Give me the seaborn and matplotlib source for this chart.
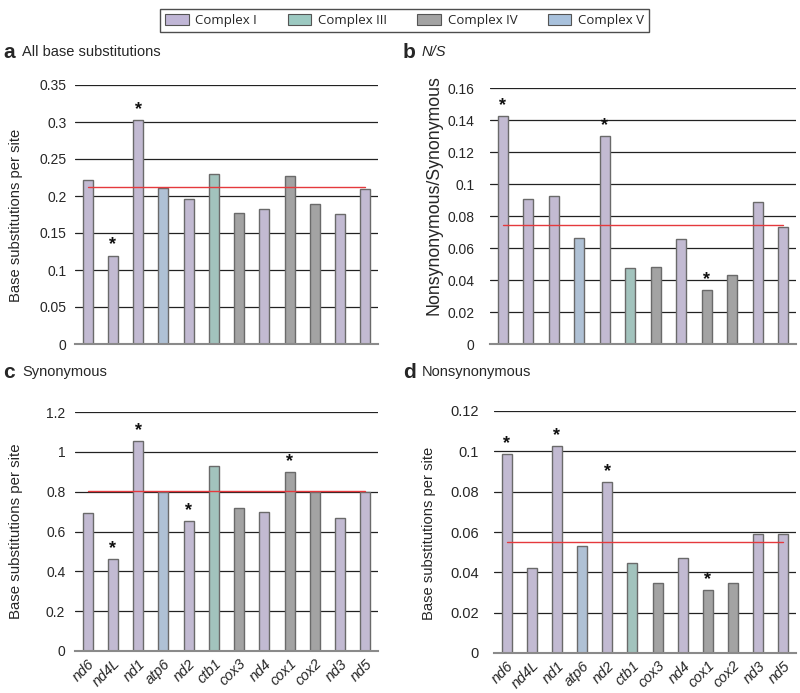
import matplotlib
matplotlib.use("Agg")
import matplotlib.pyplot as plt
import seaborn as sns
import pandas as pd
from matplotlib.patches import Patch

genes = ["nd6", "nd4L", "nd1", "atp6", "nd2", "ctb1", "cox3", "nd4", "cox1", "cox2", "nd3", "nd5"]
complexes = ["Complex I", "Complex I", "Complex I", "Complex V", "Complex I", "Complex III",
             "Complex IV", "Complex I", "Complex IV", "Complex IV", "Complex I", "Complex I"]

all_subs = [0.222, 0.1195, 0.303, 0.211, 0.196, 0.230, 0.177, 0.183, 0.227, 0.189, 0.1755, 0.209]
ns_ratio = [0.1427, 0.0905, 0.0922, 0.0663, 0.1297, 0.0476, 0.0484, 0.0659, 0.0338, 0.043, 0.0887, 0.073]
synonymous = [0.694, 0.463, 1.056, 0.796, 0.652, 0.931, 0.720, 0.700, 0.899, 0.796, 0.669, 0.796]
nonsynonymous = [0.0988, 0.042, 0.1028, 0.0529, 0.085, 0.0445, 0.0349, 0.0473, 0.0314, 0.0345, 0.0592, 0.059]

means = [0.2115, 0.0745, 0.804, 0.055]
stars = [["nd4L", "nd1"], ["nd6", "nd2", "cox1"], ["nd4L", "nd1", "nd2", "cox1"], ["nd6", "nd1", "nd2", "cox1"]]
yticks = [[0, 0.05, 0.1, 0.15, 0.2, 0.25, 0.3, 0.35],
          [0, 0.02, 0.04, 0.06, 0.08, 0.1, 0.12, 0.14, 0.16],
          [0, 0.2, 0.4, 0.6, 0.8, 1, 1.2],
          [0, 0.02, 0.04, 0.06, 0.08, 0.1, 0.12]]
ytick_labels = [["0", "0.05", "0.1", "0.15", "0.2", "0.25", "0.3", "0.35"],
                ["0", "0.02", "0.04", "0.06", "0.08", "0.1", "0.12", "0.14", "0.16"],
                ["0", "0.2", "0.4", "0.6", "0.8", "1", "1.2"],
                ["0", "0.02", "0.04", "0.06", "0.08", "0.1", "0.12"]]
ylabels = ["Base substitutions per site", "Nonsynonymous/Synonymous",
           "Base substitutions per site", "Base substitutions per site"]
letters = ["a", "b", "c", "d"]
titles = ["All base substitutions", "N/S", "Synonymous", "Nonsynonymous"]
legend_order = ["Complex I", "Complex III", "Complex IV", "Complex V"]

palette = {"Complex I": "#C0B6D6", "Complex III": "#9CC9C1",
           "Complex IV": "#A3A3A3", "Complex V": "#A8C1DC"}

sns.set_theme(style="white")
plt.rcParams["font.family"] = ["Liberation Sans", "DejaVu Sans"]

fig = plt.figure(figsize=(8, 6.93), dpi=100)
W, H = 800, 693
boxes = [(75, 378, 85, 344), (490, 796, 88, 344), (75, 378, 412, 651), (494, 796, 411, 653)]
series = [all_subs, ns_ratio, synonymous, nonsynonymous]
ypads = [6, 11, 7, 11]
ylabel_sizes = [10.6, 12.8, 10.8, 10.6]
ytick_sizes = [10, 10, 10, 10.5]
# right edge (px) and vertical centre (px) of each y-axis label in the figure
ylabel_px = [(23, 215), (442, 195), (23, 531), (436, 533)]

for i in range(4):
    x0, x1, yt, yb = boxes[i]
    ax = fig.add_axes([x0 / W, 1 - yb / H, (x1 - x0) / W, (yb - yt) / H])
    df = pd.DataFrame({"gene": genes, "value": series[i], "complex": complexes})
    sns.barplot(data=df, x="gene", y="value", hue="complex", order=genes,
                palette=palette, dodge=False, width=0.4, legend=False,
                edgecolor="#6a6a6a", linewidth=1.0, ax=ax, zorder=3)
    ax.set_xlim(-0.5, len(genes) - 0.5)
    ax.set_ylim(0, yticks[i][-1])
    ax.set_yticks(yticks[i])
    ax.set_yticklabels(ytick_labels[i], fontsize=ytick_sizes[i])
    ax.yaxis.grid(True, color="#222222", linewidth=0.9)
    ax.set_axisbelow(True)
    for s in ["top", "right", "left"]:
        ax.spines[s].set_visible(False)
    ax.spines["bottom"].set_color("#8a8a8a")
    ax.spines["bottom"].set_linewidth(1.5)
    ax.spines["bottom"].set_zorder(5)
    ax.tick_params(axis="y", length=0, pad=ypads[i])
    ax.set_ylabel(ylabels[i], fontsize=ylabel_sizes[i])
    lx, ly = ylabel_px[i]
    ax.yaxis.set_label_coords((lx - x0) / (x1 - x0), (yb - ly) / (yb - yt))
    ax.set_xlabel("")
    if i < 2:
        ax.set_xticklabels([])
        ax.tick_params(axis="x", length=0)
    else:
        ax.set_xticks(range(len(genes)))
        ax.set_xticklabels(genes, rotation=45, ha="right", rotation_mode="anchor",
                           fontstyle="italic", fontsize=10.5)
        ax.tick_params(axis="x", length=0, pad=4)
    ax.plot([0, len(genes) - 1], [means[i], means[i]], color="#E5393D", linewidth=1.0, zorder=4)
    ymax = yticks[i][-1]
    for g in stars[i]:
        j = genes.index(g)
        ax.text(j, series[i][j] + ymax * 0.008, "*", ha="center", va="bottom",
                fontsize=13, fontweight="bold", color="#111111")

# panel letters and titles
label_pos = [(3, 52), (403, 52), (3, 372), (403, 372)]
for i in range(4):
    lx, ly = label_pos[i]
    fig.text(lx / W, 1 - ly / H, letters[i], fontsize=15, fontweight="bold", va="center", ha="left")
    fig.text((lx + 19) / W, 1 - ly / H, titles[i], fontsize=10.5, va="center", ha="left",
             fontstyle="italic" if i == 1 else "normal")

handles = [Patch(facecolor=palette[c], edgecolor="#555555", linewidth=0.8, label=c) for c in legend_order]
leg = fig.legend(handles=handles, loc="upper center", bbox_to_anchor=(0.5056, 1 - 2 / H), ncol=4,
                 frameon=True, fancybox=False, shadow=False,
                 handlelength=1.8, handleheight=0.9, columnspacing=2.3, handletextpad=0.5,
                 borderpad=0.4, prop={"family": ["Open Sans", "DejaVu Sans"], "size": 9.5})
leg.get_frame().set_edgecolor("#222222")
leg.get_frame().set_linewidth(1.0)

fig.savefig("out.png", dpi=100)
